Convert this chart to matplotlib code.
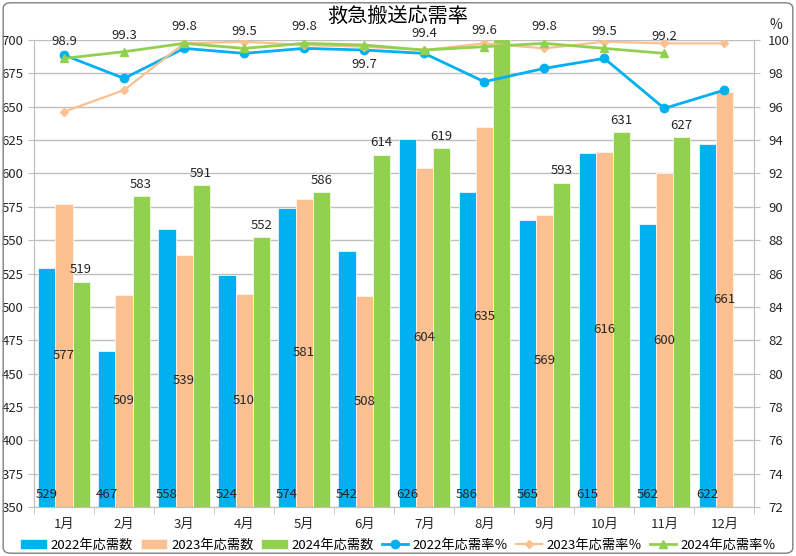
"""救急搬送応需率: monthly counts (bars) and response rate (lines)."""

import matplotlib
matplotlib.use("Agg")
import matplotlib.pyplot as plt
from matplotlib.patches import FancyBboxPatch
import numpy as np

plt.rcParams["font.family"] = ["Noto Sans CJK JP", "DejaVu Sans"]
plt.rcParams["axes.unicode_minus"] = False

# ── Data ────────────────────────────────────────────────────────────────
months = ["1月", "2月", "3月", "4月", "5月", "6月",
          "7月", "8月", "9月", "10月", "11月", "12月"]

count_2022 = [529, 467, 558, 524, 574, 542, 626, 586, 565, 615, 562, 622]
count_2023 = [577, 509, 539, 510, 581, 508, 604, 635, 569, 616, 600, 661]
count_2024 = [519, 583, 591, 552, 586, 614, 619, 705, 593, 631, 627]

rate_2022 = [99.1, 97.7, 99.5, 99.2, 99.5, 99.4, 99.2, 97.5, 98.3, 98.9, 95.9, 97.0]
rate_2023 = [95.7, 97.0, 99.8, 99.9, 99.7, 99.6, 99.4, 99.8, 99.5, 99.9, 99.8, 99.8]
rate_2024 = [98.9, 99.3, 99.8, 99.5, 99.8, 99.7, 99.4, 99.6, 99.8, 99.5, 99.2]

BLUE = "#00B0F0"
ORANGE = "#FAC090"
GREEN = "#92D050"
GRID = "#BFBFBF"
TEXT = "#262626"

# ── Figure ──────────────────────────────────────────────────────────────
fig = plt.figure(figsize=(7.96, 5.56), dpi=100)
ax = fig.add_axes([0.0427, 0.0881, 0.905, 0.8399])
ax2 = ax.twinx()

x = np.arange(len(months))
w = 0.285

b1 = ax.bar(x[:len(count_2022)] - w, count_2022, w, color=BLUE,
            edgecolor="#E8F8FF", linewidth=0.6, label="2022年応需数", zorder=2)
b2 = ax.bar(x[:len(count_2023)], count_2023, w, color=ORANGE,
            edgecolor="#FFF4EA", linewidth=0.6, label="2023年応需数", zorder=2)
b3 = ax.bar(x[:len(count_2024)] + w, count_2024, w, color=GREEN,
            edgecolor="#F2FAEA", linewidth=0.6, label="2024年応需数", zorder=2)

ymin, ymax = 350, 700
ax.set_ylim(ymin, ymax)
ax.set_xlim(-0.5, len(months) - 0.5)
ax.set_yticks(np.arange(350, 701, 25))
ax.set_xticks(x)
ax.set_xticklabels(months)
ax.set_xticks(np.arange(-0.5, len(months), 1.0), minor=True)
ax.grid(axis="y", color=GRID, linewidth=1.0, zorder=0)
ax.set_axisbelow(True)

# bar value labels: 2022 at base, 2023 at centre, 2024 above
for bar, v in zip(b1, count_2022):
    ax.annotate(str(v), xy=(bar.get_x() + bar.get_width() / 2, ymin),
                xytext=(0, 9), textcoords="offset points",
                ha="center", va="center", fontsize=9.5, color=TEXT, zorder=5)
for bar, v in zip(b2, count_2023):
    ax.text(bar.get_x() + bar.get_width() / 2, (ymin + v) / 2, str(v),
            ha="center", va="center", fontsize=9.5, color=TEXT, zorder=5)
for bar, v in zip(b3, count_2024):
    if v < ymax:
        ax.annotate(str(v), xy=(bar.get_x() + bar.get_width() / 2, v),
                    xytext=(0, 4), textcoords="offset points",
                    ha="center", va="bottom", fontsize=9.5, color=TEXT, zorder=5)

# ── Rate lines (right axis) ─────────────────────────────────────────────
l1, = ax2.plot(x[:len(rate_2022)], rate_2022, color=BLUE, linewidth=2.0,
               marker="o", markersize=6, label="2022年応需率％")
l2, = ax2.plot(x[:len(rate_2023)], rate_2023, color=ORANGE, linewidth=1.6,
               marker="D", markersize=4.5, label="2023年応需率％")
l3, = ax2.plot(x[:len(rate_2024)], rate_2024, color=GREEN, linewidth=2.0,
               marker="^", markersize=6, label="2024年応需率％")

for i, r in enumerate(rate_2024):
    dy = -14 if i == 5 else 12
    ax2.annotate(f"{r:.1f}", xy=(x[i], r), xytext=(0, dy),
                 textcoords="offset points", ha="center", va="center",
                 fontsize=9.5, color=TEXT)

ax2.set_ylim(72, 100)
ax2.set_yticks(np.arange(72, 101, 2))
ax2.text(1.03, 1.032, "%", transform=ax.transAxes, ha="center", va="center",
         fontsize=10, color=TEXT)

for a in (ax, ax2):
    for s in a.spines.values():
        s.set_color(GRID)
    a.spines["top"].set_visible(False)
    a.tick_params(colors=TEXT, labelsize=9.5, length=4, color=GRID)
ax2.tick_params(axis="y", pad=6)
ax.tick_params(axis="x", which="major", length=0, pad=8)
ax.tick_params(axis="x", which="minor", length=5, color=GRID)

fig.text(0.5, 1 - 17 / 556, "救急搬送応需率", ha="center", va="center",
         fontsize=14.5, color="#000000")

handles = [b1, b2, b3, l1, l2, l3]
fig.legend(handles, [h.get_label() for h in handles], loc="center",
           bbox_to_anchor=(0.5, 1 - 545 / 556), ncol=6, frameon=False,
           fontsize=9.5, handlelength=2.0, handleheight=0.8,
           columnspacing=0.6, handletextpad=0.3)

# outer chart border
fig.patches.append(FancyBboxPatch((0.004, 0.005), 0.992, 0.99,
                                  boxstyle="round,pad=0,rounding_size=0.01",
                                  transform=fig.transFigure, fill=False,
                                  edgecolor="#7F7F7F", linewidth=1.0))

fig.savefig("out.png", dpi=100)
